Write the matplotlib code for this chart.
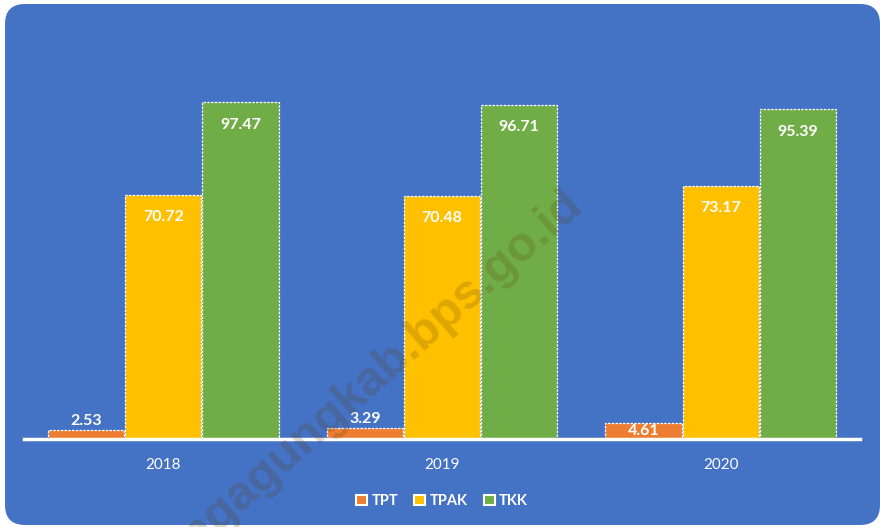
import matplotlib
matplotlib.use("Agg")
import matplotlib.pyplot as plt
import numpy as np
from matplotlib.patches import FancyBboxPatch

# data
years = ["2018", "2019", "2020"]
series = ["TPT", "TPAK", "TKK"]
tpt = [2.53, 3.29, 4.61]
tpak = [70.72, 70.48, 73.17]
tkk = [97.47, 96.71, 95.39]
colors = ["#ED7D31", "#FFC000", "#70AD47"]
bg = "#4472C4"

plt.rcParams['font.family'] = ['Lato', 'DejaVu Sans']

fig = plt.figure(figsize=(8.8, 5.27), dpi=100)
fig.patch.set_facecolor("white")

# rounded blue panel (inches)
box = FancyBboxPatch((0.05, 0.02), 8.75, 5.21,
                     boxstyle="round,pad=0,rounding_size=0.2",
                     transform=fig.dpi_scale_trans, facecolor=bg,
                     edgecolor="none", zorder=-5)
fig.patches.append(box)

ax = fig.add_axes([24/880, 88/527, 836/880, 380/527])
ax.set_zorder(2)
ax.set_facecolor("none")
ax.set_xlim(-0.5, 2.5)
ax.set_ylim(0, 110)

x = np.arange(len(years))
w = 0.273
off = 0.277
for i, (vals, c, name) in enumerate(zip([tpt, tpak, tkk], colors, series)):
    bars = ax.bar(x + (i - 1) * off, vals, width=w, color=c, label=name,
                  edgecolor="white", linewidth=0.9, linestyle=(0, (2, 1)), zorder=2)
    for b, v in zip(bars, vals):
        cx = b.get_x() + b.get_width() / 2
        if v > 20:
            dy = -16
        elif v > 4:
            dy = -5.5
        else:
            dy = 6.5
        ax.annotate(f"{v:.2f}", (cx, v), xytext=(0, dy), textcoords="offset points",
                    ha="center", va="center", color="white", fontsize=11.5,
                    fontweight="bold", zorder=4)

for s in ["top", "right", "left"]:
    ax.spines[s].set_visible(False)
ax.spines["bottom"].set_color("white")
ax.spines["bottom"].set_linewidth(2.5)
ax.spines["bottom"].set_zorder(3)
ax.set_yticks([])
ax.set_xticks(x)
ax.set_xticklabels(years, color="white", fontsize=11)
ax.tick_params(axis="x", length=0, pad=14)

leg = ax.legend(loc="center", bbox_to_anchor=(0.5, -0.163), ncol=3, frameon=False,
                handlelength=0.75, handleheight=0.75, handletextpad=0.3, columnspacing=1.1,
                prop={"weight": "bold", "size": 10.5})
for t in leg.get_texts():
    t.set_color("white")
for h in leg.legend_handles:
    h.set_linestyle("-")
    h.set_linewidth(1.5)

# watermark
fig.text(576 / 880, 1 - 200 / 527, "tulungagungkab.bps.go.id", rotation=41.5,
         rotation_mode="anchor", ha="right", va="center", fontsize=35,
         fontweight="bold", family=["Liberation Sans", "DejaVu Sans"],
         color="#5a3c08", alpha=0.2, zorder=10)

fig.savefig("out.png", dpi=100)
